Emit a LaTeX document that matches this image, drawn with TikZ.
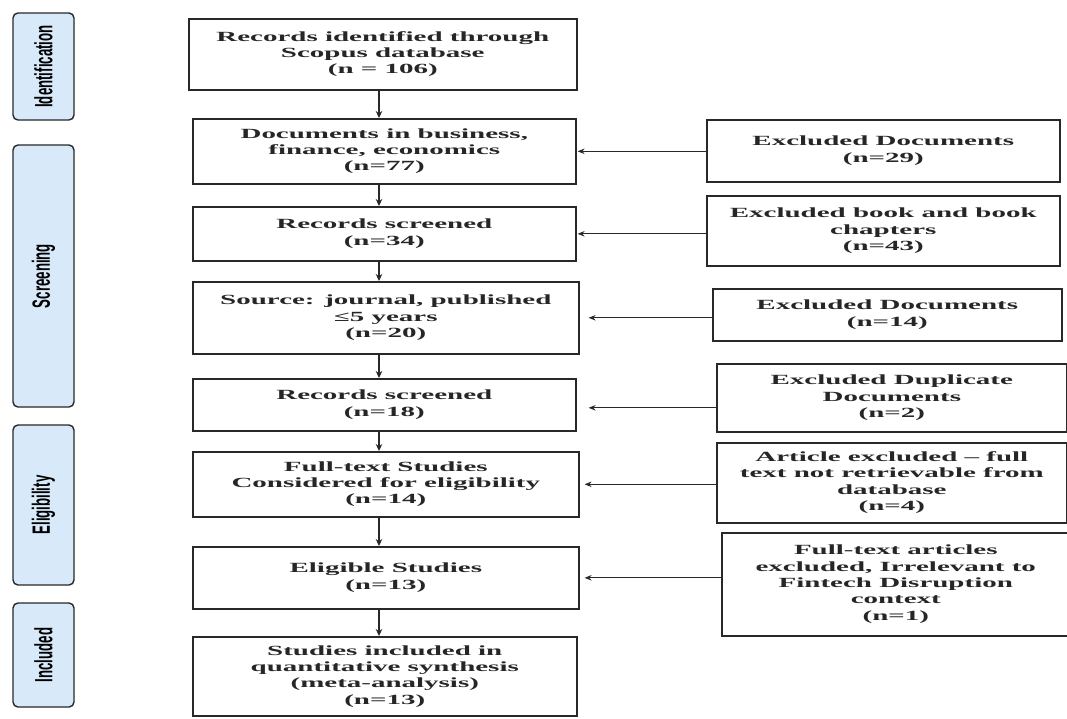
\documentclass[tikz,border=0pt]{standalone}
\usepackage{fontspec}
\setmainfont{Liberation Serif}
\newfontfamily\sidefont{Liberation Sans}
\usepackage{graphicx}
\usetikzlibrary{arrows.meta,calc}
\definecolor{sidefill}{RGB}{216,234,250}
\definecolor{edge}{RGB}{40,40,40}
\newcommand\wtxt[1]{\scalebox{2.07}[1]{\fontsize{14}{16.3}\selectfont\bfseries\begin{tabular}{@{}c@{}}#1\end{tabular}}}
\newcommand\sidetxt[1]{\scalebox{0.53}[1]{\fontsize{25}{28}\sidefont\bfseries #1}}
\begin{document}
\begin{tikzpicture}[x=1pt,y=-1pt,
  box/.style={draw=edge,line width=1.6pt,inner sep=0pt,anchor=north west,fill=white,text=black!85},
  side/.style={draw=edge,line width=1.4pt,fill=sidefill,rounded corners=5pt,inner sep=0pt,rotate=90,xshift=-5pt},
  varr/.style={draw=edge,line width=1.4pt,-{Stealth[length=7pt,width=6.5pt]}},
  harr/.style={draw=edge,line width=1pt,-{Stealth[length=7pt,width=5.5pt]}}]
\clip (0,0) rectangle (1067,718);
\fill[white] (0,0) rectangle (1067,718);
% side bars
\node[side,minimum width=107pt,minimum height=61pt] (s1) at (43.5,61.5) {\sidetxt{Identification}};
\node[side,minimum width=262pt,minimum height=61pt] (s2) at (43.5,271) {\sidetxt{Screening}};
\node[side,minimum width=160pt,minimum height=61pt] (s3) at (43.5,500) {\sidetxt{Eligibility}};
\node[side,minimum width=104pt,minimum height=61pt] (s4) at (43.5,650) {\sidetxt{Included}};
% left column
\node[box,minimum width=388pt,minimum height=71pt] (b1) at (188,18) {\wtxt{Records identified through\\Scopus database\\(n = 106)}};
\node[box,minimum width=383pt,minimum height=65pt] (b2) at (192,118) {\wtxt{Documents in business,\\finance, economics\\(n=77)}};
\node[box,minimum width=383pt,minimum height=54pt] (b3) at (192,206) {\wtxt{Records screened\\(n=34)}};
\node[box,minimum width=386pt,minimum height=72pt] (b4) at (192,281) {\wtxt{Source: journal, published\\≤5 years\\(n=20)}};
\node[box,minimum width=383pt,minimum height=52pt] (b5) at (192,378) {\wtxt{Records screened\\(n=18)}};
\node[box,minimum width=386pt,minimum height=65pt] (b6) at (192,451) {\wtxt{Full-text Studies\\Considered for eligibility\\(n=14)}};
\node[box,minimum width=386pt,minimum height=62pt] (b7) at (192,546) {\wtxt{Eligible Studies\\(n=13)}};
\node[box,minimum width=384pt,minimum height=79pt] (b8) at (192,636) {\wtxt{Studies included in\\quantitative synthesis\\(meta-analysis)\\(n=13)}};
% right column
\node[box,minimum width=353pt,minimum height=62pt] (r1) at (706,119) {\wtxt{Excluded Documents\\(n=29)}};
\node[box,minimum width=353pt,minimum height=70pt] (r2) at (706,195) {\wtxt{Excluded book and book\\chapters\\(n=43)}};
\node[box,minimum width=349pt,minimum height=52pt] (r3) at (712,288) {\wtxt{Excluded Documents\\(n=14)}};
\node[box,minimum width=350pt,minimum height=68pt] (r4) at (716,363) {\wtxt{Excluded Duplicate\\Documents\\(n=2)}};
\node[box,minimum width=350pt,minimum height=80pt] (r5) at (716,442) {\wtxt{Article excluded – full\\text not retrievable from\\database\\(n=4)}};
\node[box,minimum width=348pt,minimum height=103pt] (r6) at (721,532) {\wtxt{Full-text articles\\excluded, Irrelevant to\\Fintech Disruption\\context\\(n=1)}};
% vertical arrows
\coordinate (ax) at (379,0);
\draw[varr] (b1.south -| ax) -- (b2.north -| ax);
\draw[varr] (b2.south -| ax) -- (b3.north -| ax);
\draw[varr] (b3.south -| ax) -- (b4.north -| ax);
\draw[varr] (b4.south -| ax) -- (b5.north -| ax);
\draw[varr] (b5.south -| ax) -- (b6.north -| ax);
\draw[varr] (b6.south -| ax) -- (b7.north -| ax);
\draw[varr] (b7.south -| ax) -- (b8.north -| ax);
% horizontal arrows
\draw[harr] (r1.west |- b2.east) -- ([xshift=1pt]b2.east);
\draw[harr] (r2.west |- b3.east) -- ([xshift=1pt]b3.east);
\draw[harr] (r3.west |- b4.east) -- ([xshift=9pt]b4.east);
\draw[harr] ([yshift=-3pt]r4.west |- b5.east) -- ([xshift=12pt,yshift=-3pt]b5.east);
\draw[harr] (r5.west |- b6.east) -- ([xshift=5pt]b6.east);
\draw[harr] (r6.west |- b7.east) -- ([xshift=5pt]b7.east);
\end{tikzpicture}
\end{document}
